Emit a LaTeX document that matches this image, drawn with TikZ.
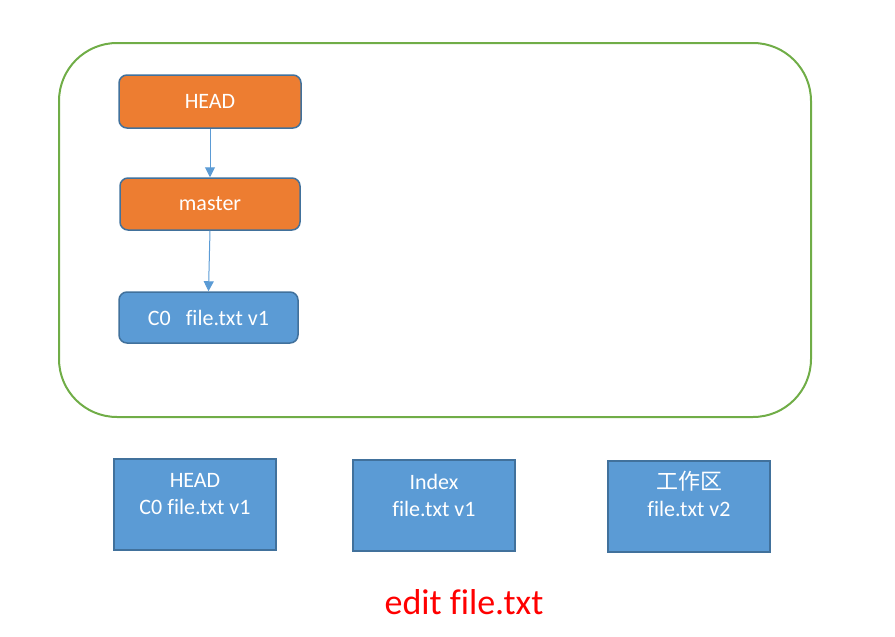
\documentclass[tikz,border=0pt]{standalone}
\usepackage{fontspec}
\setmainfont{Carlito}[Ligatures=NoCommon]
\newfontfamily\cjk{Noto Sans CJK SC}
\usetikzlibrary{positioning,arrows.meta}

\definecolor{gitorange}{HTML}{ED7D31}
\definecolor{gitblue}{HTML}{5B9BD5}
\definecolor{gitedge}{HTML}{41719C}
\definecolor{gitgreen}{HTML}{70AD47}

\tikzset{
  refbox/.style={draw=gitedge, line width=1.5pt, rounded corners=8pt, text=white,
    font=\fontsize{22}{27}\selectfont},
  areabox/.style={draw=gitedge, fill=gitblue, line width=1.5pt,
    minimum width=162pt, minimum height=91pt},
  areatext/.style={text=white, align=center, inner sep=0pt,
    font=\fontsize{22}{27}\selectfont},
  pointer/.style={draw=gitblue, line width=1pt, -{Triangle[width=10pt,length=10pt]}}
}

\begin{document}
\begin{tikzpicture}[x=1pt,y=-1pt]
  \useasboundingbox (0,0) rectangle (895,637);

  \node[draw=gitgreen, line width=2pt, rounded corners=58pt,
    minimum width=752pt, minimum height=374pt] (repo) at (435,230) {};

  \node[refbox, fill=gitorange, minimum width=182pt, minimum height=53pt] (head) at (210,101.5) {HEAD};
  \node[refbox, fill=gitorange, minimum width=180pt, minimum height=52pt] (master) at (210,204) {master};
  \node[refbox, fill=gitblue, minimum width=179pt, minimum height=51pt] (c0) at (208.5,317.5) {C0\ \ \ file.txt v1};

  \draw[pointer] (head.south) -- (master.north);
  \draw[pointer] (master.south) -- (c0.north);

  \node[areabox] (headarea) at (195,504.5) {};
  \node[areabox] (indexarea) at (434,505.5) {};
  \node[areabox] (workarea) at (689,506.5) {};

  \node[areatext, below=15pt of headarea.north] (headtext) {HEAD\\C0 file.txt v1};
  \node[areatext, below=15pt of indexarea.north] (indextext) {Index\\file.txt v1};
  \node[areatext, below=11pt of workarea.north] (worktext) {{\cjk 工作区}\\file.txt v2};

  \node[text=red, font=\fontsize{36}{40}\selectfont] (edit) at (464,602) {edit file.txt};
\end{tikzpicture}
\end{document}
